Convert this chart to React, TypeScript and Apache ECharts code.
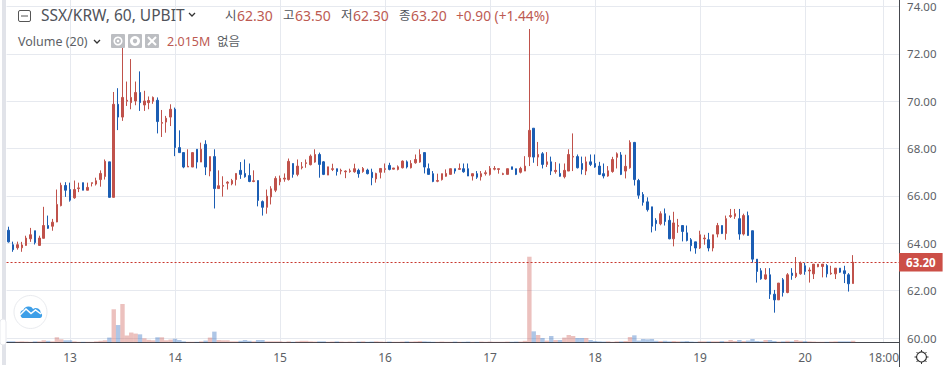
import React, { useEffect, useRef } from "react";
import * as echarts from "echarts";

const firstHour = -14;
const hourCount = 204;
const dayLabels: [number, string][] = [
  [0, "13"], [24, "14"], [48, "15"], [72, "16"], [96, "17"], [120, "18"], [144, "19"], [168, "20"], [186, "18:00"],
];
const priceTicks = { min: 60, max: 74, interval: 2 };
const lastPrice = 63.2;

const opens = [
  64.55, 63.94, 63.81, 63.81, 63.91, 64.19, 64.53, 63.91, 64.21, 64.75, 64.72, 64.90, 65.59, 66.44,
  66.27, 65.92, 66.31, 66.56, 66.24, 66.53, 66.50, 66.69, 66.82, 67.44, 65.94, 69.87, 69.33, 70.00, 69.94, 70.01,
  70.37, 69.84, 69.94, 70.00, 70.04, 69.07, 69.12, 69.33, 69.66, 68.04, 67.83, 67.22, 67.22, 67.97, 67.43, 68.18,
  67.05, 67.66, 66.31, 66.41, 66.54, 66.51, 66.69, 67.08, 66.95, 66.86, 66.61, 66.65, 65.76, 65.52, 65.96, 66.24,
  66.60, 66.71, 66.69, 67.37, 66.91, 67.19, 67.37, 67.32, 67.43, 67.75, 67.44, 66.88, 67.12, 67.15, 67.05, 67.02,
  67.03, 67.02, 67.08, 67.03, 67.09, 67.00, 66.72, 67.00, 67.12, 67.29, 67.13, 67.12, 67.19, 67.44, 67.19, 67.40,
  67.43, 67.83, 67.15, 66.94, 66.62, 66.69, 66.83, 66.91, 67.15, 67.12, 67.15, 67.15, 66.84, 66.94, 66.81, 66.94,
  66.91, 67.13, 67.12, 66.91, 66.91, 67.23, 67.15, 67.00, 67.05, 67.65, 68.86, 67.64, 67.78, 67.33, 67.44, 67.03,
  66.95, 66.81, 67.05, 67.64, 67.66, 67.37, 67.05, 67.44, 67.37, 67.26, 66.94, 66.84, 67.03, 67.63, 67.73, 67.05,
  67.19, 68.26, 66.65, 66.06, 65.75, 65.54, 64.97, 64.82, 65.25, 64.97, 64.19, 64.72, 64.75, 64.44, 64.15, 64.06,
  63.80, 64.19, 64.15, 63.80, 64.39, 64.75, 64.41, 65.13, 65.14, 65.04, 64.39, 65.17, 64.53, 63.33, 62.84, 62.49,
  62.67, 61.85, 61.61, 62.46, 61.92, 62.74, 62.60, 62.71, 63.05, 62.83, 62.71, 63.01, 63.02, 63.06, 62.71, 62.71,
  62.95, 62.84, 62.67, 62.30,
];
const closes = [
  64.06, 63.73, 63.94, 63.93, 64.22, 64.36, 64.03, 64.22, 64.75, 64.63, 64.89, 65.64, 66.45, 66.24,
  65.82, 66.27, 66.34, 66.24, 66.36, 66.56, 66.64, 66.95, 67.46, 65.94, 69.87, 69.33, 70.16, 70.04, 70.16, 70.37,
  69.94, 70.01, 70.03, 70.16, 69.14, 69.10, 69.28, 69.66, 68.04, 67.83, 67.22, 67.25, 67.83, 67.43, 67.97, 67.22,
  67.66, 66.31, 66.43, 66.44, 66.58, 66.65, 66.95, 66.91, 66.81, 66.61, 66.64, 65.81, 65.52, 65.99, 66.30, 66.74,
  66.74, 66.75, 67.46, 66.91, 67.26, 67.23, 67.40, 67.68, 67.75, 67.33, 66.91, 67.23, 67.15, 67.03, 67.08, 67.05,
  67.06, 67.15, 66.94, 67.16, 66.94, 66.77, 66.95, 67.16, 67.15, 67.12, 67.18, 67.23, 67.47, 67.22, 67.37, 67.54,
  67.75, 67.22, 66.91, 66.61, 66.65, 66.94, 66.95, 67.15, 67.05, 67.16, 67.02, 66.84, 66.94, 66.79, 66.94, 66.98,
  67.16, 67.16, 67.15, 66.94, 67.15, 67.12, 66.91, 67.16, 67.26, 68.77, 67.64, 67.75, 67.33, 67.44, 67.05, 67.08,
  66.83, 67.08, 67.75, 67.67, 67.19, 67.12, 67.44, 67.33, 67.22, 66.91, 66.84, 67.06, 67.54, 67.78, 66.91, 67.25,
  68.26, 66.69, 66.03, 65.73, 65.42, 64.72, 64.83, 65.25, 64.92, 64.19, 64.86, 64.75, 64.50, 64.12, 63.90, 63.80,
  64.36, 64.22, 63.80, 64.36, 64.75, 64.41, 65.04, 65.17, 65.25, 64.39, 65.17, 64.33, 63.33, 62.81, 62.50, 62.67,
  61.85, 61.61, 62.32, 61.92, 62.67, 62.64, 62.74, 63.17, 62.81, 62.87, 63.12, 63.12, 63.12, 62.71, 62.74, 62.95,
  62.78, 62.72, 62.29, 63.20,
];
const highs = [
  64.70, 64.07, 64.07, 64.06, 64.32, 64.65, 64.53, 64.32, 65.54, 65.17, 65.03, 66.27, 66.56, 66.58,
  66.56, 66.65, 66.56, 66.56, 66.56, 66.56, 66.77, 67.08, 67.54, 67.44, 70.39, 70.55, 72.33, 70.83, 71.78, 70.83,
  71.26, 70.44, 70.20, 70.20, 70.16, 69.63, 69.38, 69.87, 69.73, 68.77, 67.83, 67.97, 67.83, 67.97, 68.25, 68.35,
  67.66, 67.97, 67.08, 66.83, 66.62, 66.72, 66.95, 67.43, 67.54, 67.37, 67.08, 66.65, 65.81, 66.27, 66.41, 66.83,
  66.86, 66.95, 67.58, 67.37, 67.54, 67.43, 67.54, 67.75, 67.97, 67.83, 67.47, 67.23, 67.36, 67.15, 67.15, 67.08,
  67.15, 67.36, 67.15, 67.22, 67.15, 67.15, 66.98, 67.16, 67.37, 67.40, 67.18, 67.29, 67.50, 67.50, 67.51, 67.75,
  67.97, 67.83, 67.37, 67.05, 66.94, 66.94, 67.12, 67.15, 67.15, 67.37, 67.37, 67.37, 66.94, 67.05, 67.05, 67.08,
  67.26, 67.26, 67.15, 66.98, 67.15, 67.23, 67.15, 67.23, 67.68, 73.05, 68.86, 68.28, 67.85, 67.85, 67.66, 67.43,
  67.37, 67.37, 67.97, 68.64, 67.75, 67.66, 67.66, 67.75, 67.75, 67.44, 67.37, 67.26, 67.65, 67.84, 67.85, 67.74,
  68.35, 68.28, 66.72, 66.16, 65.94, 65.54, 65.06, 65.35, 65.47, 65.17, 65.33, 65.03, 64.75, 64.75, 64.22, 64.06,
  64.53, 64.36, 64.44, 64.36, 64.86, 64.75, 65.17, 65.45, 65.45, 65.45, 65.25, 65.34, 64.53, 63.33, 62.95, 62.95,
  62.95, 62.03, 62.32, 62.53, 62.74, 62.95, 63.42, 63.23, 63.17, 62.98, 63.12, 63.12, 63.12, 63.12, 63.05, 62.95,
  62.95, 63.05, 62.74, 63.50,
];
const lows = [
  64.03, 63.64, 63.73, 63.64, 63.90, 64.06, 63.95, 63.90, 64.21, 64.61, 64.53, 64.89, 65.56, 65.96,
  65.76, 65.88, 66.16, 66.24, 66.24, 66.40, 66.44, 66.39, 66.69, 65.94, 65.94, 68.78, 69.17, 69.80, 69.66, 69.83,
  69.59, 69.59, 69.66, 69.89, 68.64, 68.49, 68.67, 68.95, 67.68, 67.83, 67.17, 67.22, 67.22, 67.16, 67.43, 66.88,
  66.83, 65.47, 66.31, 65.97, 66.27, 66.45, 66.44, 66.72, 66.77, 66.58, 66.58, 65.56, 65.17, 65.25, 65.64, 66.16,
  66.45, 66.60, 66.65, 66.77, 66.83, 67.12, 67.19, 67.29, 67.40, 66.77, 66.88, 66.88, 67.05, 66.86, 66.91, 66.75,
  66.98, 66.98, 66.77, 66.98, 66.91, 66.45, 66.56, 66.74, 66.98, 67.08, 67.12, 67.08, 67.16, 67.16, 67.16, 67.36,
  67.40, 66.95, 66.91, 66.58, 66.58, 66.65, 66.81, 66.91, 66.94, 67.12, 66.98, 66.84, 66.65, 66.72, 66.65, 66.86,
  66.86, 67.08, 66.94, 66.88, 66.91, 67.12, 66.88, 66.95, 67.05, 67.26, 67.40, 67.26, 67.16, 67.22, 66.88, 66.94,
  66.81, 66.74, 67.05, 67.05, 67.16, 66.91, 66.88, 67.26, 67.19, 66.88, 66.74, 66.81, 66.98, 67.16, 66.88, 66.74,
  67.15, 66.44, 65.88, 65.59, 65.34, 64.46, 64.53, 64.76, 64.75, 64.17, 63.87, 64.44, 64.08, 64.08, 63.66, 63.56,
  63.76, 63.94, 63.66, 63.66, 64.25, 64.39, 64.15, 65.07, 65.03, 64.15, 64.33, 64.32, 63.18, 62.34, 62.46, 62.46,
  61.65, 61.07, 61.61, 61.75, 61.89, 62.46, 62.53, 62.67, 62.67, 62.34, 62.49, 62.99, 62.56, 62.56, 62.67, 62.49,
  62.75, 62.32, 61.96, 62.30,
];
const volumes = [
  1.3, 1.3, 1.0, 1.3, 1.0, 0.7, 1.3, 1.3, 2.7, 2.0, 1.3, 6.7, 4.0, 2.7,
  2.7, 1.3, 0.7, 0.7, 0.7, 0.7, 1.3, 2.0, 2.7, 6.3, 44, 23, 51, 8.9, 13, 11.6,
  10.6, 5.3, 3.3, 2.7, 6.7, 6.7, 2.7, 3.6, 4.7, 3.1, 1.3, 0.7, 0.7, 0.7, 1.3, 2.3,
  6.3, 14.2, 3.1, 2.7, 2.7, 1.3, 1.3, 2.0, 3.1, 2.0, 1.3, 3.1, 3.1, 1.3, 1.3, 1.3,
  1.3, 0.7, 1.3, 0.7, 1.3, 2.0, 2.0, 1.3, 1.0, 1.3, 1.3, 0.7, 1.0, 1.3, 1.0, 0.7,
  1.0, 0.7, 1.0, 1.3, 0.7, 1.0, 1.3, 1.0, 0.7, 1.0, 0.7, 0.7, 1.0, 1.3, 1.0, 1.3,
  1.7, 1.3, 1.0, 0.7, 0.7, 1.0, 0.7, 0.7, 1.0, 0.7, 0.7, 1.0, 0.7, 0.7, 1.0, 0.7,
  1.0, 0.7, 0.7, 0.7, 1.0, 0.7, 1.0, 1.0, 2.0, 114, 14.6, 9.7, 5.7, 2.3, 8.4, 3.1,
  3.1, 6.3, 9.7, 8.4, 5.7, 5.7, 5.7, 3.1, 1.7, 1.3, 1.0, 1.3, 0.7, 1.3, 1.3, 1.7,
  7.0, 9.3, 2.3, 4.4, 4.0, 4.4, 2.0, 1.7, 2.0, 1.3, 1.7, 1.3, 1.3, 1.7, 1.0, 0.7,
  1.3, 1.3, 1.3, 1.3, 1.3, 1.7, 1.3, 3.1, 1.7, 3.1, 1.7, 2.3, 4.4, 1.7, 1.3, 3.1,
  3.1, 1.7, 1.0, 1.3, 2.0, 1.3, 3.1, 2.0, 1.6, 1.3, 1.0, 0.7, 0.7, 0.7, 1.0, 1.3,
  1.3, 1.3, 1.3, 2.015,
];

const headerValues = [
  { label: "시", x: 225, value: "62.30", vx: 237 },
  { label: "고", x: 283, value: "63.50", vx: 295 },
  { label: "저", x: 341, value: "62.30", vx: 353 },
  { label: "종", x: 399, value: "63.20", vx: 411 },
];
const changeText = "+0.90 (+1.44%)";

const UP = "#c0524b";
const DOWN = "#1b5db3";
const UP_VOL = "rgba(206,92,84,0.38)";
const DOWN_VOL = "rgba(30,96,186,0.36)";
const GRID = "#e6e9ef";
const TEXT = "#5c5f66";
const FONT = '"Noto Sans", "Noto Sans CJK KR", sans-serif';

echarts.graphic.registerShape(
  "tvCloud",
  echarts.graphic.extendPath(
    "M6 20a6 6 0 0 1-1-11.8A8.5 8.5 0 0 1 13 3a8 8 0 0 1 7.2 3.6A7.5 7.5 0 0 1 32 12.6a4 4 0 0 1-1 7.4z",
    {}
  )
);

export default function App() {
  const ref = useRef<HTMLDivElement>(null);
  useEffect(() => {
    const chart = echarts.init(ref.current!, undefined, { renderer: "svg" });
    const labelAt = new Map(dayLabels);
    const categories = Array.from({ length: hourCount }, (_, i) => labelAt.get(i + firstHour) ?? "");
    const isLabelled = (i: number) => categories[i] !== "";
    const candle = opens.map((o, i) => [o, closes[i], lows[i], highs[i]]);
    const vols = volumes.map((v, i) => ({
      value: v,
      itemStyle: { color: closes[i] >= opens[i] ? UP_VOL : DOWN_VOL },
    }));
    const left = 6.56;
    const width = 892.5;

    const txt = (x: number, y: number, text: string, fill: string, fontSize = 13) => ({
      type: "text",
      x,
      y,
      silent: true,
      style: { text, fill, fontSize, fontFamily: FONT, textVerticalAlign: "middle", textBaseline: "middle" },
    });
    const chevron = (x: number, y: number) => ({
      type: "polyline",
      silent: true,
      shape: { points: [[x, y], [x + 3, y + 3], [x + 6, y]] },
      style: { stroke: "#333", lineWidth: 1.3, fill: "none" },
    });
    const square = (x: number) => ({
      type: "rect",
      silent: true,
      shape: { x, y: 34, width: 14, height: 14, r: 1 },
      style: { fill: "#bcbec2" },
    });

    chart.setOption({
      animation: false,
      backgroundColor: "#ffffff",
      textStyle: { fontFamily: FONT },
      grid: [
        { left, width, top: 6.5, height: 331.5, containLabel: false },
        { left, width, top: 0, height: 342.3, containLabel: false },
      ],
      xAxis: [
        {
          type: "category",
          gridIndex: 0,
          data: categories,
          axisLine: { show: false },
          axisTick: { show: false },
          axisLabel: { show: false },
          splitLine: { show: false },
        },
        {
          type: "category",
          gridIndex: 1,
          data: categories,
          axisLine: { show: true, lineStyle: { color: "#45484e", width: 1 } },
          axisTick: { show: false },
          axisLabel: {
            interval: (i: number) => isLabelled(i),
            color: TEXT,
            fontSize: 12,
            fontFamily: FONT,
            margin: 9,
          },
          splitLine: {
            show: true,
            alignWithLabel: true,
            interval: (i: number) => isLabelled(i),
            lineStyle: { color: GRID, width: 1 },
          },
        },
      ],
      yAxis: [
        {
          type: "value",
          gridIndex: 0,
          position: "right",
          min: priceTicks.min,
          max: priceTicks.max,
          interval: priceTicks.interval,
          axisLine: { show: false },
          axisTick: { show: false },
          axisLabel: {
            color: TEXT,
            fontSize: 11.5,
            margin: 8,
            fontFamily: FONT,
            formatter: (v: number) => v.toFixed(2),
          },
          splitLine: { show: true, lineStyle: { color: GRID, width: 1 } },
        },
        {
          type: "value",
          gridIndex: 1,
          position: "right",
          min: 0,
          max: 456,
          axisLine: { show: true, lineStyle: { color: "#45484e", width: 1 } },
          axisTick: { show: false },
          axisLabel: { show: false },
          splitLine: { show: false },
        },
      ],
      series: [
        {
          type: "bar",
          name: "Volume",
          xAxisIndex: 1,
          yAxisIndex: 1,
          data: vols,
          barWidth: 4.4,
          z: 2,
        },
        {
          type: "candlestick",
          name: "SSX/KRW",
          xAxisIndex: 0,
          yAxisIndex: 0,
          data: candle,
          barWidth: 2,
          clip: false,
          z: 3,
          itemStyle: {
            color: UP,
            color0: DOWN,
            borderColor: UP,
            borderColor0: DOWN,
            borderColorDoji: UP,
            borderWidth: 1,
          },
          markLine: {
            silent: true,
            symbol: "none",
            animation: false,
            data: [{ yAxis: lastPrice }],
            lineStyle: { color: "#c8352c", type: [2, 2], width: 1 },
            label: {
              show: true,
              position: "end",
              distance: 0,
              formatter: lastPrice.toFixed(2),
              color: "#fff",
              backgroundColor: "#cc4f47",
              padding: [4, 7, 3, 7],
              fontSize: 11.5,
              fontWeight: "bold",
              fontFamily: FONT,
            },
          },
        },
      ],
      graphic: [
        { type: "rect", silent: true, z: 50, shape: { x: 2, y: 0, width: 4, height: 365 }, style: { fill: "#e1e3e9" } },
        { type: "rect", silent: true, z: 51, shape: { x: 0, y: 319, width: 6, height: 26, r: 3 }, style: { fill: "#fff", stroke: "#e8e9ee", lineWidth: 1 } },
        { type: "line", silent: true, z: 50, shape: { x1: 899.5, y1: 342, x2: 899.5, y2: 367 }, style: { stroke: "#45484e", lineWidth: 1 } },
        { type: "rect", silent: true, z: 60, shape: { x: 18.5, y: 10.5, width: 12, height: 11, r: 1.5 }, style: { fill: "#fff", stroke: "#555", lineWidth: 1 } },
        { type: "line", silent: true, z: 60, shape: { x1: 21, y1: 16, x2: 28, y2: 16 }, style: { stroke: "#555", lineWidth: 1 } },
        { ...txt(41, 15, "SSX/KRW, 60, UPBIT", "#50535a", 15.5), z: 60 },
        { ...chevron(189, 13), z: 60 },
        ...headerValues.flatMap((h) => [
          { ...txt(h.x, 15, h.label, "#50535a", 12.5), z: 60 },
          { ...txt(h.vx, 15, h.value, "#bd5a52", 14), z: 60 },
        ]),
        { ...txt(456, 15, changeText, "#bd5a52", 13.7), z: 60 },
        { ...txt(18, 41, "Volume (20)", "#5c5f66", 12.5), z: 60 },
        { ...chevron(94, 40), z: 60 },
        { ...square(111), z: 60 },
        { ...square(128), z: 60 },
        { ...square(145), z: 60 },
        { type: "ring", silent: true, z: 61, shape: { cx: 118, cy: 41, r: 4.5, r0: 3 }, style: { fill: "#fff" } },
        { type: "circle", silent: true, z: 61, shape: { cx: 118, cy: 41, r: 1.3 }, style: { fill: "#fff" } },
        { type: "ring", silent: true, z: 61, shape: { cx: 135, cy: 41, r: 5, r0: 2.2 }, style: { fill: "#fff" } },
        { type: "line", silent: true, z: 61, shape: { x1: 148, y1: 37, x2: 156, y2: 45 }, style: { stroke: "#fff", lineWidth: 2 } },
        { type: "line", silent: true, z: 61, shape: { x1: 156, y1: 37, x2: 148, y2: 45 }, style: { stroke: "#fff", lineWidth: 2 } },
        { ...txt(167, 41, "2.015M", "#bd5a52", 12.5), z: 60 },
        { ...txt(217, 41, "없음", "#5c5f66", 12.5), z: 60 },
        { type: "circle", silent: true, z: 40, shape: { cx: 30.5, cy: 312, r: 16.5 }, style: { fill: "#fff", stroke: "#e9ebef", lineWidth: 1 } },
        { type: "tvCloud", silent: true, z: 41, x: 20, y: 304.5, scaleX: 0.65, scaleY: 0.68, style: { fill: "#3d9fe8" } },
        { type: "polyline", silent: true, z: 42, shape: { points: [[20, 315], [26, 309], [31, 313.5], [35.5, 310], [41, 314]] }, style: { stroke: "#fff", lineWidth: 1.5, fill: "none" } },
        { type: "circle", silent: true, z: 60, shape: { cx: 921.5, cy: 357, r: 5 }, style: { fill: "#fff", stroke: "#333", lineWidth: 1.2 } },
        ...[
          [921.5, 350, 921.5, 352], [921.5, 362, 921.5, 364], [914.5, 357, 916.5, 357], [926.5, 357, 928.5, 357],
          [916.5, 352, 918, 353.5], [925, 360.5, 926.5, 362], [916.5, 362, 918, 360.5], [925, 353.5, 926.5, 352],
        ].map(([x1, y1, x2, y2]) => ({
          type: "line",
          silent: true,
          z: 60,
          shape: { x1, y1, x2, y2 },
          style: { stroke: "#333", lineWidth: 1 },
        })),
      ],
    });
    return () => chart.dispose();
  }, []);
  return <div ref={ref} style={{ position: "fixed", left: 0, top: 0, width: 943, height: 377 }} />;
}
